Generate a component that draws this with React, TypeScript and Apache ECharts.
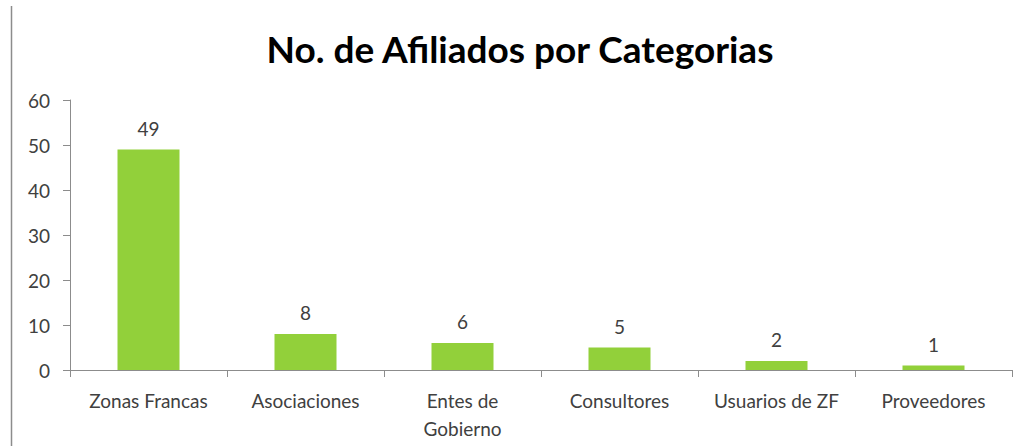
import React, { useEffect, useRef } from "react";
import * as echarts from "echarts";

const categories = ["Zonas Francas", "Asociaciones", "Entes de\nGobierno", "Consultores", "Usuarios de ZF", "Proveedores"];
const values = [49, 8, 6, 5, 2, 1];
const yTicks = { min: 0, max: 60, interval: 10 };
const titleText = "No. de Afiliados por Categorias";

export default function App() {
  const ref = useRef<HTMLDivElement>(null);
  useEffect(() => {
    const chart = echarts.init(ref.current!, undefined, { renderer: "svg" });
    const font = "Lato, 'Open Sans', sans-serif";
    chart.setOption({
      animation: false,
      backgroundColor: "#ffffff",
      title: {
        text: titleText,
        left: 515,
        top: 25,
        textAlign: "center",
        textStyle: { fontFamily: font, fontWeight: "bold", fontSize: 37, color: "#000" },
      },
      graphic: [
        {
          type: "line",
          shape: { x1: 11.5, y1: 6, x2: 11.5, y2: 446 },
          style: { stroke: "#8c8c8c", lineWidth: 1.5 },
        },
      ],
      grid: { left: 70, right: 3, top: 100, bottom: 76, containLabel: false },
      xAxis: {
        type: "category",
        data: categories,
        axisLine: { lineStyle: { color: "#8c8c8c", width: 1 } },
        axisTick: { show: true, length: 7, lineStyle: { color: "#8c8c8c" }, alignWithLabel: false },
        axisLabel: {
          interval: 0,
          margin: 16,
          fontFamily: font,
          fontSize: 19,
          color: "#404040",
          lineHeight: 28,
        },
      },
      yAxis: {
        type: "value",
        min: yTicks.min,
        max: yTicks.max,
        interval: yTicks.interval,
        splitLine: { show: false },
        axisLine: { show: true, lineStyle: { color: "#8c8c8c", width: 1 } },
        axisTick: { show: true, length: 7, lineStyle: { color: "#8c8c8c" } },
        axisLabel: { margin: 20, fontFamily: font, fontSize: 19, color: "#404040" },
      },
      series: [
        {
          type: "bar",
          data: values,
          barWidth: 62,
          itemStyle: { color: "#92D03A" },
          label: {
            show: true,
            position: "top",
            distance: 12,
            fontFamily: font,
            fontSize: 19,
            color: "#404040",
          },
        },
      ],
    });
    return () => chart.dispose();
  }, []);
  return <div ref={ref} style={{ position: "fixed", left: 0, top: 0, width: 1015, height: 446 }} />;
}
